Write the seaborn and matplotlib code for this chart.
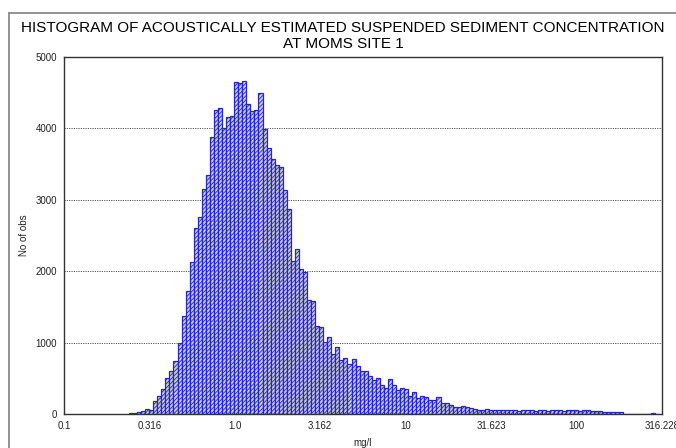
import numpy as np
import pandas as pd
import matplotlib
matplotlib.use("Agg")
import matplotlib.pyplot as plt
from matplotlib.lines import Line2D
import seaborn as sns

# Histogram counts per class of log10(concentration), classes of equal log width
log_bin_start = -0.6196
log_bin_width = 0.02368
counts = [
    8, 15, 25, 40, 75, 60, 185, 250, 350, 500, 605, 740, 990, 1370, 1720,
    2130, 2600, 2765, 3150, 3350, 3875, 4255, 4285,
    4000, 4165, 4170, 4655, 4640, 4660, 4345, 4245, 4255, 4500, 3995, 3720,
    3565, 3490, 3465, 3135, 2865, 2145, 2305, 2035, 1990, 1595, 1580,
    1230, 1215, 1005, 1080, 835, 940, 755, 780, 700, 770, 670, 600, 600, 530,
    475, 500, 405, 360, 490, 405, 335, 370, 355,
    250, 305, 220, 250, 240, 195, 195, 240, 160, 160, 125, 105, 95, 115, 95,
    80, 75, 55, 50, 70, 55, 50, 60, 55, 50, 50, 50, 45, 60, 55, 55, 45, 55, 50,
    45, 50, 60, 55, 45, 55, 50, 55, 45, 50, 55, 40, 45, 40, 30, 30, 35, 30, 25,
    6, 5, 6, 4, 5, 3, 0, 8, 0,
]
x_tick_log = [-1.0, -0.5, 0.0, 0.5, 1.0, 1.5, 2.0, 2.5]
x_tick_labels = ["0.1", "0.316", "1.0", "3.162", "10", "31.623", "100", "316.228"]
y_ticks = [0, 1000, 2000, 3000, 4000, 5000]

title = ("HISTOGRAM OF ACOUSTICALLY ESTIMATED SUSPENDED SEDIMENT CONCENTRATION\n"
         "AT MOMS SITE 1")

n = len(counts)
bin_lo = log_bin_start
bin_hi = log_bin_start + log_bin_width * n
centers = log_bin_start + log_bin_width * (np.arange(n) + 0.5)
df = pd.DataFrame({"log_conc": centers, "obs": counts})

sns.set_theme(style="white")
plt.rcParams["font.family"] = ["Liberation Sans", "DejaVu Sans"]
plt.rcParams["hatch.linewidth"] = 0.6

fig = plt.figure(figsize=(6.76, 4.48), dpi=100)
ax = fig.add_axes([64 / 676, 1 - 414 / 448, (662 - 64) / 676, (414 - 57) / 448])

sns.histplot(data=df, x="log_conc", weights="obs", bins=n, binrange=(bin_lo, bin_hi),
             ax=ax, stat="count", element="bars", fill=True,
             facecolor="#cacad2", edgecolor="#2424cc", linewidth=0.9,
             hatch="////////", alpha=1.0)

ax.set_xlim(-1.0, 2.5)
ax.set_ylim(0, 5000)
ax.set_xticks(x_tick_log)
ax.set_xticklabels(x_tick_labels)
ax.set_yticks(y_ticks)
ax.set_yticklabels([str(v) for v in y_ticks])
ax.tick_params(axis="both", labelsize=7, colors="#222222", length=0, pad=5)
ax.set_xlabel("mg/l", fontsize=7, color="#222222", labelpad=5)
ax.set_ylabel("No of obs", fontsize=7, color="#222222", labelpad=5)

for y in y_ticks[1:-1]:
    ax.axhline(y, color="#555555", linestyle=(0, (1.2, 1.2)), linewidth=0.7, zorder=0)
ax.set_axisbelow(True)

for s in ax.spines.values():
    s.set_color("#333333")
    s.set_linewidth(1.0)

fig.text(343 / 676, 1 - 36 / 448, title, ha="center", va="center",
         fontsize=11, color="black", linespacing=1.1)

# outer frame, left and top edges
fig.add_artist(Line2D([9 / 676, 9 / 676], [0, 1 - 13 / 448],
                      transform=fig.transFigure, color="#808080", linewidth=1.2))
fig.add_artist(Line2D([9 / 676, 1], [1 - 13 / 448, 1 - 13 / 448],
                      transform=fig.transFigure, color="#808080", linewidth=1.2))

fig.savefig("out.png", dpi=100, facecolor="white")
